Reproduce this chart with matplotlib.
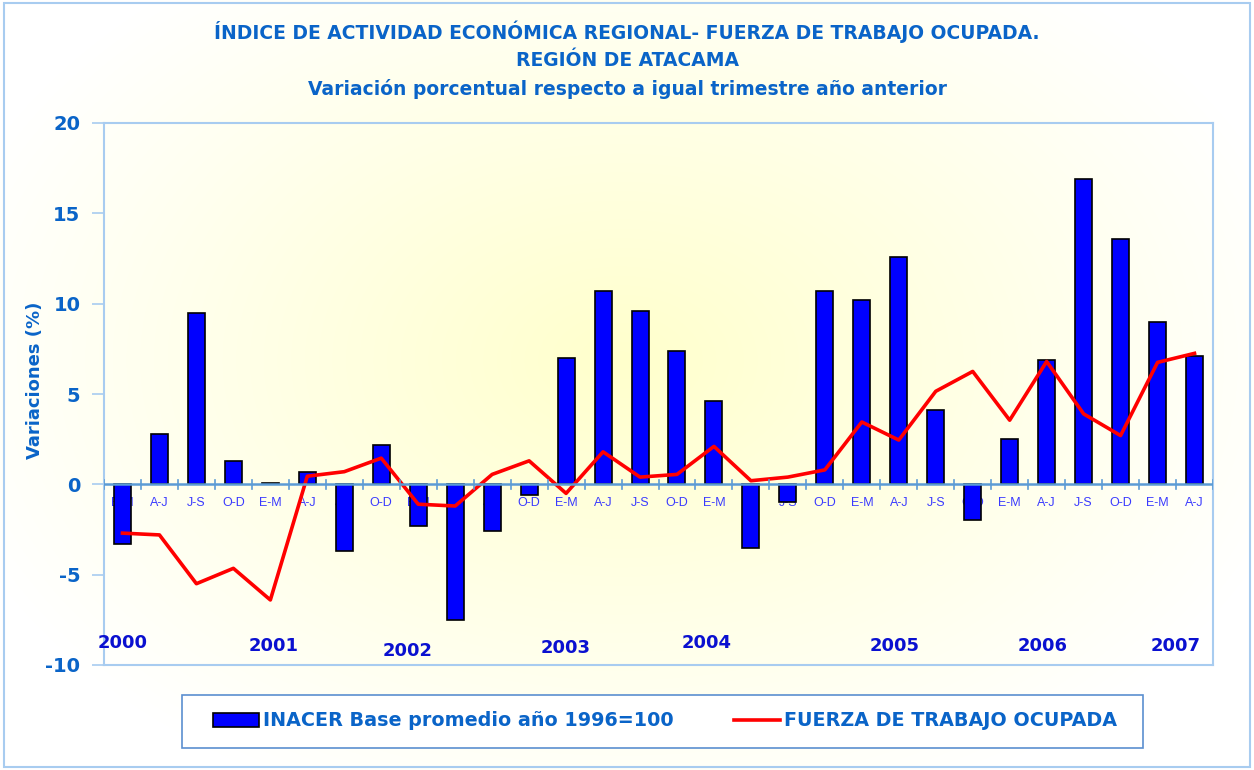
import numpy as np
import matplotlib
matplotlib.use("Agg")
import matplotlib.pyplot as plt
from matplotlib.patches import Rectangle
from matplotlib.lines import Line2D

plt.rcParams["axes.unicode_minus"] = False

quarters = ["E-M", "A-J", "J-S", "O-D"] * 7 + ["E-M", "A-J"]
inacer = [-3.3, 2.8, 9.5, 1.3, 0.1, 0.7, -3.7, 2.2, -2.3, -7.5, -2.6, -0.6,
          7.0, 10.7, 9.6, 7.4, 4.6, -3.5, -1.0, 10.7, 10.2, 12.6, 4.1, -2.0,
          2.5, 6.9, 16.9, 13.6, 9.0, 7.1]
fuerza = [-2.7, -2.8, -5.5, -4.65, -6.4, 0.45, 0.7, 1.45, -1.1, -1.2, 0.55, 1.3,
          -0.5, 1.8, 0.4, 0.55, 2.1, 0.2, 0.4, 0.8, 3.45, 2.45, 5.15, 6.25,
          3.55, 6.8, 3.9, 2.7, 6.75, 7.25]
years = ["2000", "2001", "2002", "2003", "2004", "2005", "2006", "2007"]
year_x = [0.0, 4.1, 7.7, 12.0, 15.8, 20.9, 24.9, 28.5]
year_y = [-8.8, -8.95, -9.2, -9.05, -8.8, -8.95, -8.95, -8.95]

title_col = "#0A64C8"
W, H = 1254, 770
fig = plt.figure(figsize=(W / 100, H / 100), dpi=100)

# background radial gradient
bg = fig.add_axes([0, 0, 1, 1], zorder=-10)
yy, xx = np.mgrid[0:H, 0:W]
r = np.sqrt(((xx - 620) / 700.0) ** 2 + ((yy - 360) / 480.0) ** 2)
t = np.clip(r, 0, 1)
img = np.ones((H, W, 3))
img[..., 2] = 0.80 + 0.20 * t
bg.imshow(img, aspect="auto", extent=[0, W, H, 0])
bg.set_xlim(0, W)
bg.set_ylim(H, 0)
bg.axis("off")
bg.add_patch(Rectangle((4, 3), W - 8, H - 6, fill=False, ec="#A8CCF0", lw=1.5))

ax = fig.add_axes([104 / W, 1 - 665 / H, (1213 - 104) / W, (665 - 123) / H])
ax.patch.set_alpha(0)
x = np.arange(len(inacer))
ax.bar(x, inacer, width=0.46, color="#0000FF", edgecolor="black", linewidth=1.2, zorder=3)
ax.plot(x, fuerza, color="#FF0000", lw=2.6, zorder=4)
ax.axhline(0, color="#5B9BD5", lw=1.8, zorder=5)
for k in range(31):
    ax.plot([k - 0.5, k - 0.5], [-0.25, 0.25], color="#5B9BD5", lw=1.2, zorder=5)

ax.set_xlim(-0.5, 29.5)
ax.set_ylim(-10, 20)
ax.set_yticks(np.arange(-10, 21, 5))
ax.set_xticks([])
for s in ax.spines.values():
    s.set_color("#A8CCF0")
    s.set_linewidth(1.5)
ax.tick_params(axis="y", direction="out", length=9, width=1.2, color="#A8CCF0",
               labelsize=14, labelcolor=title_col, pad=8)
for lab in ax.get_yticklabels():
    lab.set_fontweight("bold")
fig.text(35 / W, 1 - 380 / H, "Variaciones (%)", rotation=90, ha="center", va="center",
         fontsize=13, fontweight="bold", color=title_col)

for i, q in enumerate(quarters):
    ax.text(i, -1.05, q, ha="center", va="center", fontsize=9, color="#3A3AFF", zorder=2,
            family="Liberation Sans")
for yl, xv, yv in zip(years, year_x, year_y):
    ax.text(xv, yv, yl, ha="center", va="center", fontsize=13, fontweight="bold", color="#0A10D0")

fig.text(0.5, 1 - 32 / H, "ÍNDICE DE ACTIVIDAD ECONÓMICA REGIONAL- FUERZA DE TRABAJO OCUPADA.",
         ha="center", va="center", fontsize=13.5, fontweight="bold", color=title_col)
fig.text(0.5, 1 - 61 / H, "REGIÓN DE ATACAMA",
         ha="center", va="center", fontsize=13.5, fontweight="bold", color=title_col)
fig.text(0.5, 1 - 89 / H, "Variación porcentual respecto a igual trimestre año anterior",
         ha="center", va="center", fontsize=13.5, fontweight="bold", color=title_col)

# legend box
bg.add_patch(Rectangle((182, 695), 961, 53, fc="white", ec="#5B8FD0", lw=1.2, zorder=2))
handles = [Rectangle((0, 0), 1, 1, fc="#0000FF", ec="black", lw=1.2),
           Line2D([0], [0], color="#FF0000", lw=2.6)]
labels = ["INACER Base promedio año 1996=100", "FUERZA DE TRABAJO OCUPADA"]
leg = fig.legend(handles, labels, loc="center", bbox_to_anchor=(665 / W, 1 - 721 / H),
                 ncol=2, frameon=False, handlelength=2.4, handleheight=0.8, handletextpad=0.2,
                 columnspacing=3.2, prop={"weight": "bold", "size": 13.8})
for txt in leg.get_texts():
    txt.set_color(title_col)

fig.savefig("out.png", dpi=100)
